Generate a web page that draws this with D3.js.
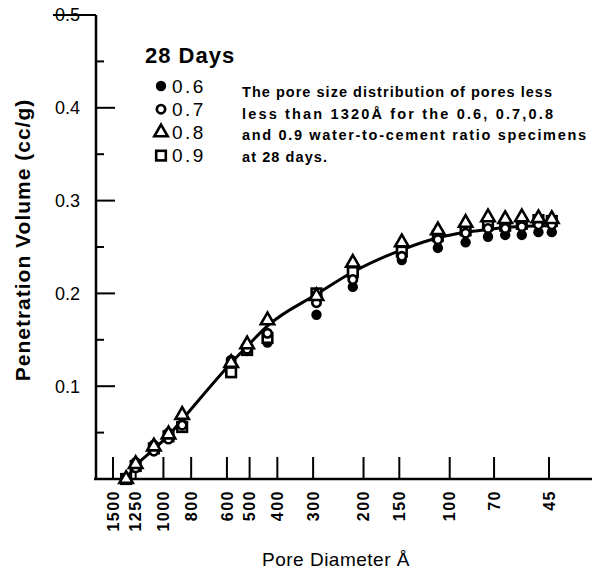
<!DOCTYPE html>
<html>
<head>
<meta charset="utf-8">
<script src="https://cdn.jsdelivr.net/npm/d3@7"></script>
<style>
  html, body { margin: 0; padding: 0; background: #fff; }
  svg { display: block; font-family: "Liberation Sans", Arial, sans-serif; }
</style>
</head>
<body>
<script>
// pore diameters (Å) of the measured columns
const diameters = [1350, 1250, 1080, 960, 860, 580, 510, 433, 292, 218, 147, 110, 88, 73.5, 64, 56, 49, 44];

// penetration volume (cc/g) for each water-to-cement ratio
const wc06 = [0, 0.018, 0.037, 0.050, 0.067, 0.122, 0.138, 0.147, 0.177, 0.207, 0.236, 0.249, 0.255, 0.261, 0.263, 0.263, 0.266, 0.266];
const wc07 = [0, 0.012, 0.030, 0.043, 0.058, 0.128, 0.140, 0.157, 0.190, 0.215, 0.240, 0.258, 0.265, 0.270, 0.270, 0.272, 0.274, 0.274];
const wc08 = [0, 0.016, 0.035, 0.048, 0.069, 0.125, 0.145, 0.171, 0.197, 0.233, 0.255, 0.268, 0.276, 0.282, 0.280, 0.282, 0.281, 0.280];
const wc09 = [0, 0.014, 0.033, 0.046, 0.056, 0.115, 0.139, 0.152, 0.200, 0.223, 0.245, 0.262, 0.268, 0.274, 0.273, 0.275, 0.279, 0.278];

// hand-drawn fit line through the points
const fitLine = [0, 0.014, 0.032, 0.047, 0.064, 0.125, 0.143, 0.165, 0.199, 0.223, 0.247, 0.260, 0.266, 0.269, 0.271, 0.272, 0.273, 0.273];

const xTicks = [1500, 1250, 1000, 800, 600, 500, 400, 300, 200, 150, 100, 70, 45];
const yTicks = [0.1, 0.2, 0.3, 0.4, 0.5];
const yMinor = [0.05, 0.15, 0.25, 0.35, 0.45];

const legendLabels = ["0.6", "0.7", "0.8", "0.9"];
const captionLines = [
  "The pore size distribution of pores less",
  "less than 1320Å for the 0.6, 0.7,0.8",
  "and 0.9 water-to-cement ratio specimens",
  "at 28 days."
];

const width = 592, height = 571;

const svg = d3.select("body").append("svg")
  .attr("width", width)
  .attr("height", height);

const x = d3.scaleLog().domain([1500, 45]).range([113, 549]);
const y = d3.scaleLinear().domain([0, 0.5]).range([479, 15]);
const axisX = 96;

// axes lines
svg.append("line")
  .attr("x1", axisX).attr("x2", axisX)
  .attr("y1", y(0.5)).attr("y2", y(0) + 1)
  .attr("stroke", "#000").attr("stroke-width", 2.5);
svg.append("line")
  .attr("x1", axisX - 2).attr("x2", width)
  .attr("y1", y(0)).attr("y2", y(0))
  .attr("stroke", "#000").attr("stroke-width", 2.5);

// y ticks (pointing inward) and labels
const yg = svg.append("g").attr("stroke", "#000").attr("stroke-width", 2);
yg.selectAll("line.major")
  .data(yTicks.filter(d => d < 0.5))
  .join("line")
  .attr("x1", axisX).attr("x2", axisX + 19)
  .attr("y1", d => y(d)).attr("y2", d => y(d));
yg.selectAll("line.minor")
  .data(yMinor)
  .join("line")
  .attr("x1", axisX).attr("x2", axisX + 8)
  .attr("y1", d => y(d)).attr("y2", d => y(d));

svg.append("g")
  .attr("font-size", 18)
  .attr("text-anchor", "end")
  .selectAll("text")
  .data(yTicks)
  .join("text")
  .attr("x", 80)
  .attr("y", d => y(d))
  .attr("dy", "0.36em")
  .text(d => d.toFixed(1));

// top tick runs out to the left through its label
svg.append("line")
  .attr("x1", 53).attr("x2", axisX)
  .attr("y1", y(0.5)).attr("y2", y(0.5))
  .attr("stroke", "#000").attr("stroke-width", 2);

// x ticks
svg.append("g")
  .attr("stroke", "#000").attr("stroke-width", 2)
  .selectAll("line")
  .data(xTicks)
  .join("line")
  .attr("x1", d => x(d)).attr("x2", d => x(d))
  .attr("y1", y(0)).attr("y2", y(0) - 22);

svg.append("g")
  .attr("font-size", 16)
  .attr("font-weight", "bold")
  .attr("letter-spacing", 1.5)
  .attr("text-anchor", "end")
  .selectAll("text")
  .data(xTicks)
  .join("text")
  .attr("transform", d => `translate(${x(d)},490) rotate(-90)`)
  .attr("dy", "0.36em")
  .text(d => d);

// axis titles
svg.append("text")
  .attr("x", 336).attr("y", 566)
  .attr("text-anchor", "middle")
  .attr("font-size", 19)
  .attr("letter-spacing", 0.5)
  .text("Pore Diameter Å");

svg.append("text")
  .attr("transform", "translate(30,240) rotate(-90)")
  .attr("text-anchor", "middle")
  .attr("font-size", 21)
  .attr("font-weight", "bold")
  .attr("letter-spacing", 1)
  .text("Penetration Volume  (cc/g)");

// fit line
const pts = diameters.map((d, i) => [d, fitLine[i]]);
svg.append("path")
  .datum(pts)
  .attr("fill", "none")
  .attr("stroke", "#000")
  .attr("stroke-width", 3)
  .attr("d", d3.line()
    .x(d => x(d[0]))
    .y(d => y(d[1]))
    .curve(d3.curveMonotoneX));

// marker drawing
function marker(g, kind) {
  if (kind === "filled") {
    g.append("circle").attr("r", 5.2).attr("fill", "#000");
  } else if (kind === "open") {
    g.append("circle").attr("r", 4.2).attr("fill", "#fff")
      .attr("stroke", "#000").attr("stroke-width", 2.6);
  } else if (kind === "tri") {
    g.append("path").attr("d", d3.symbol(d3.symbolTriangle, 78)())
      .attr("fill", "#fff").attr("stroke", "#000").attr("stroke-width", 2.6);
  } else {
    g.append("rect").attr("x", -4.8).attr("y", -4.8)
      .attr("width", 9.6).attr("height", 9.6)
      .attr("fill", "#fff").attr("stroke", "#000").attr("stroke-width", 2.6);
  }
}

const series = [
  { kind: "filled", values: wc06 },
  { kind: "sq", values: wc09 },
  { kind: "open", values: wc07 },
  { kind: "tri", values: wc08 }
];

series.forEach(s => {
  svg.append("g")
    .selectAll("g")
    .data(diameters.map((d, i) => [d, s.values[i]]))
    .join("g")
    .attr("transform", d => `translate(${x(d[0])},${y(d[1])})`)
    .each(function () { marker(d3.select(this), s.kind); });
});

// legend
svg.append("text")
  .attr("x", 145).attr("y", 63)
  .attr("font-size", 22)
  .attr("font-weight", "bold")
  .attr("letter-spacing", 1)
  .text("28 Days");

const legendKinds = ["filled", "open", "tri", "sq"];
const lg = svg.append("g")
  .selectAll("g")
  .data(legendLabels)
  .join("g")
  .attr("transform", (d, i) => `translate(161,${86 + i * 23.2})`);
lg.each(function (d, i) { marker(d3.select(this), legendKinds[i]); });
lg.append("text")
  .attr("x", 11)
  .attr("dy", "0.36em")
  .attr("font-size", 19)
  .attr("letter-spacing", 2.5)
  .text(d => d);

// caption
const capWidths = [310, 311, 344, 85];
svg.append("g")
  .attr("font-size", 14.5)
  .attr("font-weight", "bold")
  .selectAll("text")
  .data(captionLines)
  .join("text")
  .attr("x", 242)
  .attr("y", (d, i) => 97 + i * 21.7)
  .attr("textLength", (d, i) => capWidths[i])
  .attr("lengthAdjust", "spacing")
  .text(d => d);
</script>
</body>
</html>
